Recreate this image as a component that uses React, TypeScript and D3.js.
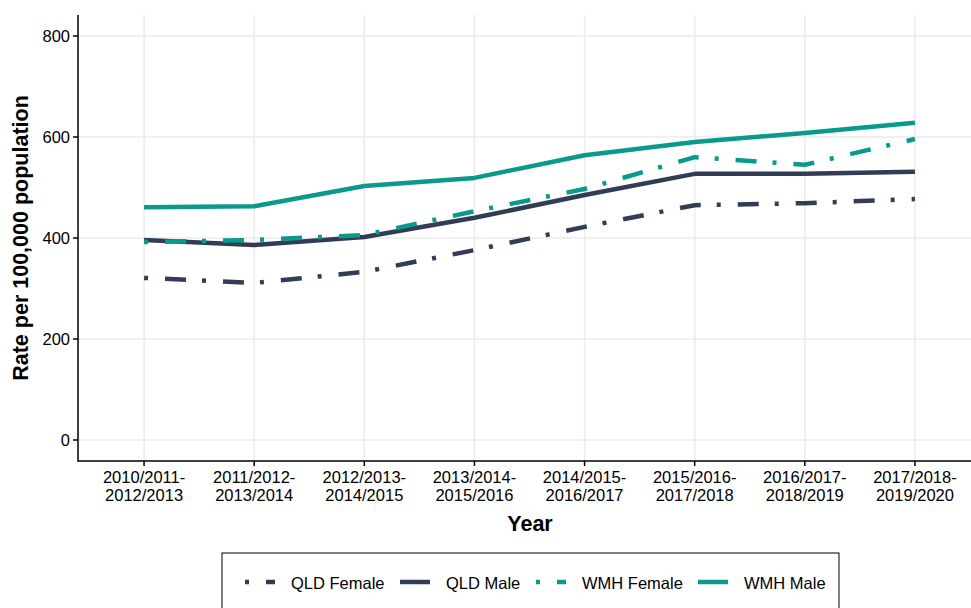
import * as d3 from "d3";

const years = [
  "2010/2011-\n2012/2013",
  "2011/2012-\n2013/2014",
  "2012/2013-\n2014/2015",
  "2013/2014-\n2015/2016",
  "2014/2015-\n2016/2017",
  "2015/2016-\n2017/2018",
  "2016/2017-\n2018/2019",
  "2017/2018-\n2019/2020",
];

const qldFemale = [321, 311, 333, 376, 422, 465, 469, 477];
const qldMale = [396, 386, 402, 440, 485, 527, 527, 531];
const wmhFemale = [392, 396, 406, 453, 497, 560, 545, 596];
const wmhMale = [461, 463, 503, 519, 564, 590, 608, 628];

const yTicks = [0, 200, 400, 600, 800];

const NAVY = "#323D55";
const TEAL = "#0A9A8B";
const DOTDASH = "4,17,21,16";

const series = [
  { name: "QLD Female", values: qldFemale, color: NAVY, dash: DOTDASH },
  { name: "QLD Male", values: qldMale, color: NAVY, dash: null },
  { name: "WMH Female", values: wmhFemale, color: TEAL, dash: DOTDASH },
  { name: "WMH Male", values: wmhMale, color: TEAL, dash: null },
];

const W = 971;
const H = 608;
const panel = { left: 78, right: 981, top: 15, bottom: 461 };

export default function App() {
  const x = d3
    .scalePoint<string>()
    .domain(years)
    .range([panel.left, panel.right])
    .padding(0.6);

  // y: 0 -> 440, 800 -> 36
  const y = d3.scaleLinear().domain([0, 800]).range([440, 36]);

  const line = d3
    .line<number>()
    .x((_, i) => x(years[i]) as number)
    .y((d) => y(d));

  const font = "'Liberation Sans', Arial, sans-serif";

  const legendX = [245, 400, 536, 698];

  return (
    <svg
      width={W}
      height={H}
      style={{ position: "absolute", left: 0, top: 0, background: "#fff" }}
      fontFamily={font}
    >
      {/* grid */}
      {yTicks.map((t) => (
        <line
          key={"gy" + t}
          x1={panel.left}
          x2={W}
          y1={y(t)}
          y2={y(t)}
          stroke="#EBEBEB"
          strokeWidth={1.5}
        />
      ))}
      {years.map((c) => (
        <line
          key={"gx" + c}
          x1={x(c)}
          x2={x(c)}
          y1={panel.top}
          y2={panel.bottom}
          stroke="#EBEBEB"
          strokeWidth={1.5}
        />
      ))}

      {/* lines */}
      {series.map((s) => (
        <path
          key={s.name}
          d={line(s.values) || ""}
          fill="none"
          stroke={s.color}
          strokeWidth={4.5}
          strokeDasharray={s.dash || undefined}
          strokeLinejoin="round"
        />
      ))}

      {/* axes */}
      <line x1={panel.left} x2={panel.left} y1={panel.top} y2={panel.bottom + 0.75} stroke="#000" strokeWidth={1.5} />
      <line x1={panel.left} x2={W} y1={panel.bottom} y2={panel.bottom} stroke="#000" strokeWidth={1.5} />
      {yTicks.map((t) => (
        <g key={"ty" + t}>
          <line x1={panel.left - 5} x2={panel.left} y1={y(t)} y2={y(t)} stroke="#000" strokeWidth={1.5} />
          <text x={panel.left - 8} y={y(t)} dy="0.36em" textAnchor="end" fontSize={16.5} fill="#000">
            {t}
          </text>
        </g>
      ))}
      {years.map((c) => (
        <g key={"tx" + c}>
          <line x1={x(c)} x2={x(c)} y1={panel.bottom} y2={panel.bottom + 5} stroke="#000" strokeWidth={1.5} />
          {c.split("\n").map((part, i) => (
            <text key={i} x={x(c)} y={483 + i * 18} textAnchor="middle" fontSize={16.5} fill="#000">
              {part}
            </text>
          ))}
        </g>
      ))}

      {/* axis titles */}
      <text x={530} y={531} textAnchor="middle" fontSize={21.5} fontWeight="bold">
        Year
      </text>
      <text
        transform={`translate(28,238) rotate(-90)`}
        textAnchor="middle"
        fontSize={21.5}
        fontWeight="bold"
      >
        Rate per 100,000 population
      </text>

      {/* legend */}
      <rect x={222} y={553} width={617} height={70} fill="#fff" stroke="#000" strokeWidth={1} />
      {series.map((s, i) => (
        <g key={"lg" + s.name} transform={`translate(${legendX[i]},582)`}>
          <line
            x1={0}
            x2={30}
            y1={0}
            y2={0}
            stroke={s.color}
            strokeWidth={4.5}
            strokeDasharray={s.dash ? "4,17,21,16" : undefined}
          />
          <text x={46} y={7} fontSize={16.5} fill="#000">
            {s.name}
          </text>
        </g>
      ))}
    </svg>
  );
}
